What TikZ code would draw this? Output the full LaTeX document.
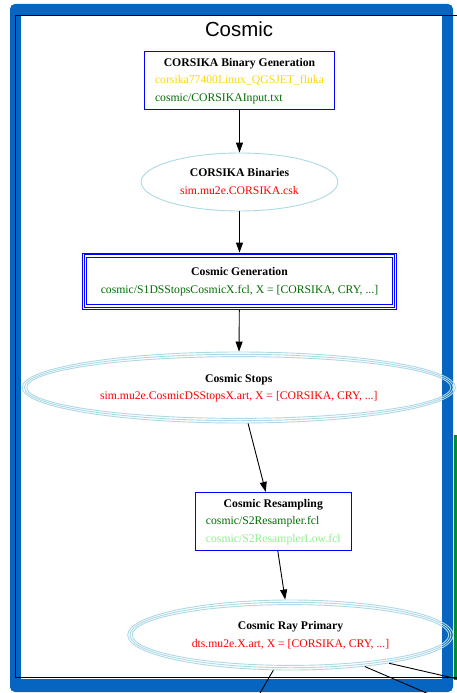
\documentclass[tikz,border=0pt]{standalone}
\usepackage{fontspec}
\setmainfont{Liberation Serif}
\newfontfamily\titlefont{Liberation Sans}
\usetikzlibrary{arrows.meta,shapes.geometric}

\definecolor{framebl}{RGB}{5,101,192}
\definecolor{sidegreen}{RGB}{0,140,50}
\definecolor{nodeblue}{RGB}{0,0,255}
\definecolor{lblue}{RGB}{173,216,230}
\definecolor{goldtxt}{RGB}{255,215,0}
\definecolor{dgreen}{RGB}{0,110,0}
\definecolor{lgreen}{RGB}{144,238,144}
\definecolor{redtxt}{RGB}{255,0,0}

\newcommand\nfsize{\fontsize{11.7}{17.6}\selectfont}

\begin{document}
\begin{tikzpicture}[x=1pt,y=-1pt,
  procbox/.style={draw=nodeblue, line width=0.9pt, rectangle, inner sep=0pt, font=\nfsize},
  datafile/.style={draw=lblue, line width=0.9pt, ellipse, inner sep=0pt, font=\nfsize},
  ringline/.style={draw=lblue, line width=0.9pt},
  boxline/.style={draw=nodeblue, line width=0.9pt},
  flow/.style={line width=0.9pt, -{Triangle[length=10pt,width=7pt]}},
  outflow/.style={line width=0.9pt}]
\useasboundingbox (0,0) rectangle (457,693);
\clip (0,0) rectangle (457,693);

% cluster frame
\fill[framebl, rounded corners=5pt] (10,4) rectangle (453,692);
\fill[white] (21,16) rectangle (442,679);
\fill[sidegreen] (454,435) rectangle (460,680);
\draw[black, line width=0.9pt] (470,15.8) -- (15.7,15.8) -- (15.7,677.5) -- (470,677.5);

\node[font=\titlefont\fontsize{20.4}{24}\selectfont, inner sep=0pt] (title) at (239,29) {Cosmic};

% CORSIKA binary generation
\node[procbox, minimum width=190pt, minimum height=58pt] (bingen) at (239.5,80.2)
  {\begin{tabular}{@{}l@{}}\multicolumn{1}{@{}c@{}}{\textbf{CORSIKA Binary Generation}}\\
   \color{goldtxt}corsika77400Linux\_QGSJET\_fluka\\
   \color{dgreen}cosmic/CORSIKAInput.txt\end{tabular}};

% CORSIKA binaries
\node[datafile, minimum width=196.7pt, minimum height=58pt] (binaries) at (239.5,182)
  {\begin{tabular}{@{}c@{}}\textbf{CORSIKA Binaries}\\
   \color{redtxt}sim.mu2e.CORSIKA.csk\end{tabular}};

% Cosmic generation (triple frame)
\node[procbox, minimum width=314pt, minimum height=56pt] (gen) at (239.5,281)
  {\begin{tabular}{@{}c@{}}\textbf{Cosmic Generation}\\
   \color{dgreen}cosmic/S1DSStopsCosmicX.fcl, X = [CORSIKA, CRY, ...]\end{tabular}};
\draw[boxline] ([xshift=2.3pt,yshift=-2.3pt]gen.north west) rectangle ([xshift=-2.3pt,yshift=2.3pt]gen.south east);
\draw[boxline] ([xshift=4.6pt,yshift=-4.6pt]gen.north west) rectangle ([xshift=-4.6pt,yshift=4.6pt]gen.south east);

% Cosmic stops (triple ring)
\node[datafile, minimum width=433.3pt, minimum height=71pt] (stops) at (238.8,387.5)
  {\begin{tabular}{@{}c@{}}\textbf{Cosmic Stops}\\
   \color{redtxt}sim.mu2e.CosmicDSStopsX.art, X = [CORSIKA, CRY, ...]\end{tabular}};
\draw[ringline] (stops.center) ellipse [x radius=214.35pt, y radius=33.2pt];
\draw[ringline] (stops.center) ellipse [x radius=212.05pt, y radius=30.9pt];

% Cosmic resampling
\node[procbox, minimum width=156pt, minimum height=57.7pt] (resamp) at (273.3,521.2)
  {\begin{tabular}{@{}l@{}}\multicolumn{1}{@{}c@{}}{\textbf{Cosmic Resampling}}\\
   \color{dgreen}cosmic/S2Resampler.fcl\\
   \color{lgreen}cosmic/S2ResamplerLow.fcl\end{tabular}};

% Cosmic ray primary (triple ring)
\node[datafile, minimum width=325.6pt, minimum height=70pt] (primary) at (290.5,635)
  {\begin{tabular}{@{}c@{}}\textbf{Cosmic Ray Primary}\\
   \color{redtxt}dts.mu2e.X.art, X = [CORSIKA, CRY, ...]\end{tabular}};
\draw[ringline] (primary.center) ellipse [x radius=160.5pt, y radius=32.7pt];
\draw[ringline] (primary.center) ellipse [x radius=158.2pt, y radius=30.4pt];

% flow
\draw[flow] (bingen) -- (binaries);
\draw[flow] (binaries) -- (gen);
\draw[flow] (gen) -- (stops);
\draw[flow] (stops) -- (resamp);
\draw[flow] (resamp) -- (primary);

% edges leaving the cluster
\coordinate (outA) at (244.4,720);
\coordinate (outB) at (489.4,720);
\coordinate (outC) at (500,688.7);
\draw[outflow] (primary.-116) -- (outA);
\draw[outflow] (primary.-23) -- (outB);
\draw[outflow] (primary.-16.8) -- (outC);
\end{tikzpicture}
\end{document}
